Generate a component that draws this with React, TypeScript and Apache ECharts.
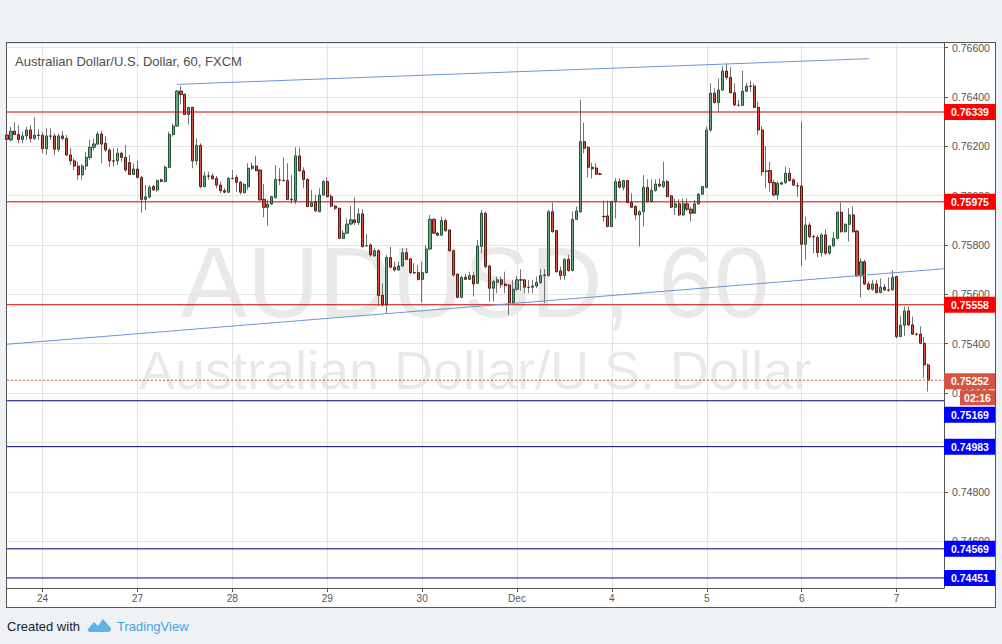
import { useEffect, useRef } from "react";
import * as echarts from "echarts";

const FONT = 'Arial, "Liberation Sans", sans-serif';

const titleText = "Australian Dollar/U.S. Dollar, 60, FXCM";
const watermarkSymbol = "AUDUSD, 60";
const watermarkName = "Australian Dollar/U.S. Dollar";

// hourly candles per trading day: [open, close, low, high]
const nov23 = [
  [0.76246, 0.76228, 0.76222, 0.76252], [0.76226, 0.76261, 0.76219, 0.76279], [0.76261, 0.76248, 0.76246, 0.76297],
  [0.76248, 0.76228, 0.76212, 0.76286], [0.76228, 0.76242, 0.76212, 0.76259], [0.76242, 0.76266, 0.76226, 0.76279],
  [0.76266, 0.76232, 0.76215, 0.76286], [0.76232, 0.76245, 0.76226, 0.76317], [0.76245, 0.76244, 0.76226, 0.76268],
];
const nov24 = [
  [0.76245, 0.7619, 0.76172, 0.76259], [0.7619, 0.76242, 0.76165, 0.76273], [0.76242, 0.76241, 0.76226, 0.76273],
  [0.76242, 0.76188, 0.76165, 0.76252], [0.76188, 0.76242, 0.76178, 0.76252], [0.76242, 0.76232, 0.76226, 0.76262],
  [0.76232, 0.76165, 0.76161, 0.76246], [0.76165, 0.76141, 0.76124, 0.76192], [0.76141, 0.7612, 0.76104, 0.76151],
  [0.7612, 0.76084, 0.76064, 0.76138], [0.76084, 0.7612, 0.76064, 0.76128], [0.7612, 0.76155, 0.76104, 0.76178],
  [0.76155, 0.76196, 0.76145, 0.76226], [0.76196, 0.76209, 0.76185, 0.76232], [0.76209, 0.7625, 0.76205, 0.76259],
  [0.7625, 0.76209, 0.76131, 0.76263], [0.76212, 0.76185, 0.76178, 0.76242], [0.76185, 0.76141, 0.76117, 0.76192],
  [0.76141, 0.7614, 0.76117, 0.76192], [0.76141, 0.76172, 0.76124, 0.76192], [0.76172, 0.76155, 0.76138, 0.76178],
  [0.76155, 0.76104, 0.76097, 0.76205],
];
const nov26 = [
  [0.76134, 0.76086, 0.76084, 0.76165], [0.76086, 0.76108, 0.76084, 0.76131],
];
const nov27 = [
  [0.76108, 0.76074, 0.7607, 0.76141], [0.76074, 0.75985, 0.75931, 0.7608], [0.75985, 0.75995, 0.75942, 0.76043],
  [0.75995, 0.76034, 0.75989, 0.76043], [0.76037, 0.76023, 0.7602, 0.76043], [0.76023, 0.76061, 0.76016, 0.76066],
  [0.76064, 0.76058, 0.76054, 0.7607], [0.76058, 0.76115, 0.76053, 0.76122], [0.76115, 0.76248, 0.76111, 0.76259],
  [0.76248, 0.76282, 0.76239, 0.76293], [0.76282, 0.76424, 0.76279, 0.76428], [0.76424, 0.7641, 0.7637, 0.76444],
  [0.7641, 0.76329, 0.76327, 0.76414], [0.76329, 0.76358, 0.76289, 0.7636], [0.76358, 0.76141, 0.76111, 0.7636],
  [0.76141, 0.76204, 0.76124, 0.76232], [0.76204, 0.76037, 0.7603, 0.76212], [0.76037, 0.7608, 0.76034, 0.76097],
  [0.7608, 0.76079, 0.76064, 0.76097], [0.7608, 0.76069, 0.76064, 0.76091], [0.7607, 0.76043, 0.7603, 0.7608],
  [0.76043, 0.7602, 0.7601, 0.76057], [0.7602, 0.76014, 0.7601, 0.7603], [0.76014, 0.7607, 0.7601, 0.76077],
];
const nov28 = [
  [0.7607, 0.76069, 0.76066, 0.76104], [0.76074, 0.76054, 0.76016, 0.76084], [0.76054, 0.76014, 0.76005, 0.7606],
  [0.76012, 0.76046, 0.7601, 0.7605], [0.76037, 0.76111, 0.76023, 0.76131], [0.76111, 0.7612, 0.76104, 0.76135],
  [0.7612, 0.76101, 0.76099, 0.76161], [0.76104, 0.75983, 0.7598, 0.76107], [0.75985, 0.75953, 0.75912, 0.76047],
  [0.75953, 0.75966, 0.75879, 0.75983], [0.75966, 0.75996, 0.75962, 0.75999], [0.75992, 0.76066, 0.75989, 0.76124],
  [0.76064, 0.76063, 0.76043, 0.76111], [0.76062, 0.76061, 0.76057, 0.76155], [0.76061, 0.75985, 0.75983, 0.76131],
  [0.75985, 0.75983, 0.75969, 0.76084], [0.7598, 0.76161, 0.75966, 0.76196], [0.76161, 0.76101, 0.76097, 0.76196],
  [0.76101, 0.76066, 0.7603, 0.76115], [0.76066, 0.75956, 0.75953, 0.7607], [0.75956, 0.75972, 0.75953, 0.76023],
  [0.75976, 0.75938, 0.75935, 0.76003], [0.75935, 0.76003, 0.75933, 0.7603], [0.76003, 0.76057, 0.76, 0.76064],
];
const nov29 = [
  [0.76057, 0.75996, 0.75993, 0.76074], [0.75996, 0.75958, 0.75953, 0.76007], [0.75958, 0.75949, 0.75942, 0.75962],
  [0.75949, 0.75827, 0.75825, 0.75952], [0.75827, 0.75848, 0.75825, 0.75861], [0.75848, 0.75885, 0.75845, 0.75908],
  [0.75885, 0.75902, 0.75881, 0.75958], [0.75902, 0.75891, 0.75881, 0.75993], [0.75891, 0.75926, 0.75881, 0.75949],
  [0.75926, 0.75793, 0.75791, 0.75945], [0.75797, 0.75798, 0.75793, 0.75845], [0.758, 0.7576, 0.75753, 0.75807],
  [0.75756, 0.75777, 0.75753, 0.75787], [0.75777, 0.75595, 0.75553, 0.75783], [0.75597, 0.75557, 0.75551, 0.75645],
  [0.75557, 0.75749, 0.75524, 0.7576], [0.75749, 0.7571, 0.75706, 0.75793], [0.7571, 0.75699, 0.75692, 0.75733],
  [0.75699, 0.75715, 0.75696, 0.75733], [0.75715, 0.75769, 0.75713, 0.75787], [0.75769, 0.75742, 0.7574, 0.75787],
  [0.75744, 0.75688, 0.75683, 0.75746], [0.75688, 0.75687, 0.75683, 0.75726], [0.75688, 0.75661, 0.75656, 0.75719],
];
const nov30 = [
  [0.75661, 0.75688, 0.75567, 0.75733], [0.75688, 0.75784, 0.75686, 0.758], [0.75784, 0.75904, 0.7578, 0.75922],
  [0.75904, 0.75848, 0.75845, 0.75908], [0.75848, 0.7584, 0.75837, 0.75854], [0.7584, 0.75899, 0.75837, 0.75915],
  [0.75899, 0.75858, 0.75854, 0.75908], [0.75861, 0.75777, 0.75773, 0.75864], [0.75777, 0.75679, 0.75672, 0.7578],
  [0.75682, 0.75588, 0.75584, 0.75686], [0.75588, 0.75669, 0.75584, 0.75675], [0.75669, 0.75661, 0.75659, 0.75683],
  [0.75661, 0.75676, 0.75659, 0.75692], [0.75676, 0.75642, 0.75591, 0.75692], [0.75645, 0.75796, 0.75642, 0.75821],
  [0.75794, 0.75929, 0.75767, 0.75942], [0.75929, 0.75713, 0.75706, 0.75935], [0.75715, 0.75625, 0.75571, 0.75719],
  [0.75625, 0.75652, 0.75571, 0.75659], [0.75649, 0.75659, 0.75605, 0.75672], [0.75659, 0.75641, 0.75625, 0.75672],
  [0.75642, 0.75636, 0.75605, 0.75692], [0.75638, 0.75567, 0.75517, 0.75642], [0.75567, 0.75621, 0.75564, 0.75659],
];
const dec1 = [
  [0.75621, 0.75659, 0.75615, 0.75675], [0.75659, 0.75658, 0.75615, 0.75702], [0.75659, 0.75629, 0.75605, 0.75661],
  [0.75629, 0.75628, 0.75605, 0.75659], [0.75629, 0.75634, 0.75605, 0.75659], [0.75634, 0.75648, 0.75625, 0.75672],
  [0.75648, 0.75676, 0.75642, 0.75702], [0.75676, 0.75679, 0.75564, 0.75702], [0.75676, 0.75935, 0.75672, 0.75942],
  [0.75935, 0.75854, 0.7585, 0.75972], [0.75859, 0.75692, 0.75688, 0.75861], [0.75695, 0.75676, 0.75659, 0.75713],
  [0.75676, 0.75742, 0.75659, 0.75746], [0.75742, 0.75697, 0.75692, 0.7576], [0.75697, 0.75904, 0.75694, 0.75935],
  [0.75904, 0.75938, 0.75902, 0.75956], [0.75935, 0.76219, 0.75931, 0.76388], [0.76219, 0.76192, 0.76172, 0.76296],
  [0.76196, 0.76115, 0.76075, 0.76201], [0.76115, 0.76109, 0.7607, 0.76134], [0.76112, 0.76087, 0.76084, 0.76131],
  [0.76088, 0.76087, 0.76084, 0.76093],
];
const dec3 = [
  [0.75916, 0.75915, 0.75895, 0.7598], [0.75918, 0.75875, 0.75872, 0.7598],
];
const dec4 = [
  [0.75875, 0.75976, 0.75872, 0.7598], [0.75976, 0.76057, 0.75908, 0.7607], [0.76057, 0.76034, 0.7603, 0.7607],
  [0.76034, 0.76061, 0.76021, 0.76064], [0.76061, 0.75972, 0.75969, 0.76064], [0.75972, 0.75953, 0.75949, 0.7601],
  [0.75956, 0.75922, 0.75902, 0.75962], [0.75922, 0.75935, 0.75794, 0.75942], [0.75935, 0.76034, 0.75875, 0.76084],
  [0.76034, 0.75976, 0.75972, 0.76066], [0.75976, 0.76021, 0.75972, 0.76066], [0.76021, 0.76047, 0.76016, 0.76066],
  [0.76047, 0.76039, 0.76034, 0.7607], [0.76037, 0.76057, 0.7603, 0.76138], [0.76057, 0.75996, 0.75993, 0.76064],
  [0.75999, 0.75953, 0.75949, 0.76003], [0.75953, 0.75967, 0.75922, 0.75989], [0.75967, 0.75922, 0.75918, 0.75985],
  [0.75922, 0.75967, 0.75918, 0.75989], [0.75967, 0.75945, 0.75939, 0.75989], [0.75945, 0.75929, 0.75895, 0.75956],
  [0.75929, 0.75967, 0.75926, 0.75983], [0.75967, 0.76006, 0.75962, 0.7601], [0.76006, 0.76037, 0.76003, 0.76039],
];
const dec5 = [
  [0.76034, 0.76266, 0.7603, 0.7628], [0.76266, 0.76415, 0.76259, 0.76455], [0.76415, 0.76377, 0.76374, 0.76435],
  [0.76377, 0.76428, 0.7634, 0.76475], [0.76428, 0.76505, 0.76425, 0.76525], [0.76505, 0.76479, 0.76471, 0.76534],
  [0.76479, 0.76417, 0.76415, 0.7652], [0.76417, 0.76368, 0.76363, 0.76455], [0.76366, 0.76367, 0.76361, 0.76388],
  [0.76366, 0.76423, 0.76363, 0.76506], [0.76423, 0.76444, 0.7642, 0.76458], [0.76444, 0.76443, 0.76421, 0.76466],
  [0.76444, 0.76358, 0.76354, 0.76455], [0.76358, 0.76266, 0.76246, 0.76381], [0.76266, 0.76097, 0.7608, 0.76282],
  [0.761, 0.76099, 0.7603, 0.76201], [0.76102, 0.76053, 0.76016, 0.76138], [0.76053, 0.76003, 0.75996, 0.76064],
  [0.76003, 0.7605, 0.75983, 0.76057], [0.76047, 0.76053, 0.76043, 0.76057], [0.76053, 0.76091, 0.76047, 0.76118],
  [0.76091, 0.76061, 0.76057, 0.76111], [0.76064, 0.76043, 0.76039, 0.7607], [0.7604, 0.76039, 0.75996, 0.76053],
];
const dec6 = [
  [0.76039, 0.75803, 0.75715, 0.763], [0.75803, 0.75881, 0.7574, 0.75915], [0.75881, 0.75834, 0.75827, 0.75891],
  [0.75834, 0.75833, 0.75767, 0.75841], [0.75831, 0.75769, 0.7575, 0.75841], [0.75769, 0.75841, 0.75753, 0.75848],
  [0.75841, 0.75767, 0.7576, 0.75864], [0.75767, 0.75796, 0.7576, 0.758], [0.75796, 0.75827, 0.75794, 0.75854],
  [0.75827, 0.75933, 0.75823, 0.75936], [0.75933, 0.75854, 0.7585, 0.75972], [0.75854, 0.75884, 0.7585, 0.75888],
  [0.75884, 0.75922, 0.75814, 0.75949], [0.75922, 0.75854, 0.7585, 0.75956], [0.75857, 0.75675, 0.75672, 0.75861],
  [0.75675, 0.75732, 0.75588, 0.75746], [0.75732, 0.75642, 0.75638, 0.7574], [0.75642, 0.75621, 0.75615, 0.75652],
  [0.75621, 0.75642, 0.75615, 0.75659], [0.75642, 0.75607, 0.75605, 0.75659], [0.75607, 0.75629, 0.75605, 0.75665],
  [0.75629, 0.75618, 0.75615, 0.75642], [0.75618, 0.75617, 0.75611, 0.75669], [0.75618, 0.75669, 0.75615, 0.75697],
];
const dec7 = [
  [0.75672, 0.75429, 0.75422, 0.75675], [0.75429, 0.75475, 0.75427, 0.75513], [0.75475, 0.75533, 0.75432, 0.75551],
  [0.75533, 0.75476, 0.75472, 0.75551], [0.75476, 0.75439, 0.75436, 0.7551], [0.75439, 0.75438, 0.75432, 0.75445],
  [0.75439, 0.75402, 0.75399, 0.7547], [0.75402, 0.75314, 0.7526, 0.75427], [0.75314, 0.75252, 0.75206, 0.7532],
];

// trading sessions: axis day label, first hour, candles
const sessions = [
  { day: "23", firstHour: 15, candles: nov23 },
  { day: "24", firstHour: 0, candles: nov24 },
  { day: "26", firstHour: 22, candles: nov26 },
  { day: "27", firstHour: 0, candles: nov27 },
  { day: "28", firstHour: 0, candles: nov28 },
  { day: "29", firstHour: 0, candles: nov29 },
  { day: "30", firstHour: 0, candles: nov30 },
  { day: "Dec", firstHour: 0, candles: dec1 },
  { day: "3", firstHour: 22, candles: dec3 },
  { day: "4", firstHour: 0, candles: dec4 },
  { day: "5", firstHour: 0, candles: dec5 },
  { day: "6", firstHour: 0, candles: dec6 },
  { day: "7", firstHour: 0, candles: dec7 },
];
const futureHours = ["9", "10", "11", "12"]; // empty hours on Dec 7 right of the last bar

const resistanceLevels = [0.76339, 0.75975, 0.75558];
const supportLevels = [0.75169, 0.74983, 0.74569, 0.74451];
const lastPrice = 0.75252;
const countdown = "02:16";
// trend lines: [category index, price]
const upperTrend = [[43, 0.76451], [218, 0.76555]];
const lowerTrend = [[0, 0.75398], [237, 0.75704]];
// axis labels hidden behind price boxes in the original
const hiddenAxisLabels = ["0.75000"];

const yMin = 0.744103;
const yMax = 0.766186;

const UP = "#6ba583";
const DOWN = "#d75442";

export default function App() {
  const ref = useRef<HTMLDivElement>(null);

  useEffect(() => {
    if (!ref.current) return;
    try {
      echarts.graphic.registerShape(
        "tvlogo",
        echarts.graphic.extendPath(
          "M1 12 L7 5 L11 9 L16 2 L23 10 C25 12 24 15 21 15 L4 15 C1 15 0 13 1 12 Z",
          {}
        )
      );
    } catch (e) {}

    const chart = echarts.init(ref.current, null, { renderer: "svg" });

    const categories: string[] = [];
    const ohlc: any[] = [];
    sessions.forEach((s) => {
      s.candles.forEach((c, i) => {
        categories.push(s.day + "|" + (s.firstHour + i));
        ohlc.push(c);
      });
    });
    futureHours.forEach((h) => {
      categories.push("7|" + h);
      ohlc.push("-");
    });
    const bodies = ohlc.map((c) =>
      c === "-" ? "-" : [c[0], c[1], Math.min(c[0], c[1]), Math.max(c[0], c[1])]
    );
    const first = categories[0];
    const last = categories[categories.length - 1];

    const isDayStart = (_i: number, v: string) => v.split("|")[1] === "0";

    const levelSeries = (v: number, color: string, type: any) => ({
      type: "line",
      data: [[first, v], [last, v]],
      symbol: "none",
      silent: true,
      z: 5,
      lineStyle: { color, width: 1, type },
    });
    const trendSeries = (pts: number[][]) => ({
      type: "line",
      data: pts.map((p) => [categories[p[0]], p[1]]),
      symbol: "none",
      silent: true,
      z: 5,
      lineStyle: { color: "#6a96d4", width: 1, type: "solid" },
    });

    const option: any = {
      animation: false,
      backgroundColor: "transparent",
      grid: { left: 7, right: 58, top: 43, bottom: 56, show: false },
      xAxis: {
        type: "category",
        data: categories,
        boundaryGap: false,
        axisLine: { lineStyle: { color: "#555", width: 1 } },
        axisTick: { show: true, length: 4, interval: isDayStart, lineStyle: { color: "#555" } },
        axisLabel: {
          interval: isDayStart,
          formatter: (v: string) => v.split("|")[0],
          color: "#555",
          fontSize: 10,
          fontFamily: FONT,
          margin: 5,
        },
        splitLine: { show: true, interval: isDayStart, lineStyle: { color: "#e4e4e4", width: 1 } },
      },
      yAxis: {
        type: "value",
        position: "right",
        min: yMin,
        max: yMax,
        splitNumber: 10,
        scale: true,
        axisLine: { show: true, lineStyle: { color: "#555", width: 1 } },
        axisTick: { show: true, length: 4, lineStyle: { color: "#555" } },
        axisLabel: {
          formatter: (v: number) => {
            const s = v.toFixed(5);
            return hiddenAxisLabels.includes(s) ? "" : s;
          },
          color: "#555",
          fontSize: 10.5,
          fontFamily: FONT,
          margin: 8,
          showMinLabel: false,
          showMaxLabel: false,
        },
        splitLine: { show: true, lineStyle: { color: "#e4e4e4", width: 1 } },
      },
      series: [
        {
          type: "candlestick",
          name: "wicks",
          data: ohlc,
          barWidth: 0.2,
          z: 2,
          itemStyle: {
            color: "#737375",
            color0: "#737375",
            borderColor: "#737375",
            borderColor0: "#737375",
            borderWidth: 1,
          },
        },
        {
          type: "candlestick",
          name: "bodies",
          data: bodies,
          barWidth: 2.6,
          z: 3,
          itemStyle: {
            color: UP,
            color0: DOWN,
            borderColor: "#225437",
            borderColor0: "#5b1a13",
            borderWidth: 1,
          },
        },
        ...resistanceLevels.map((v) => levelSeries(v, "#d40000", "solid")),
        ...supportLevels.map((v) => levelSeries(v, "#000080", "solid")),
        levelSeries(lastPrice, DOWN, [2, 2]),
        trendSeries(upperTrend),
        trendSeries(lowerTrend),
      ],
    };
    chart.setOption(option);

    const yOf = (p: number) => chart.convertToPixel({ yAxisIndex: 0 }, p) as number;
    const graphics: any[] = [
      {
        type: "text",
        x: 475,
        y: 282,
        z: -1,
        silent: true,
        style: { text: watermarkSymbol, fill: "rgba(0,0,0,0.085)", fontSize: 100, fontFamily: FONT, align: "center", verticalAlign: "middle" },
      },
      {
        type: "text",
        x: 475,
        y: 370,
        z: -1,
        silent: true,
        style: { text: watermarkName, fill: "rgba(0,0,0,0.085)", fontSize: 54, fontFamily: FONT, align: "center", verticalAlign: "middle" },
      },
      {
        type: "text",
        x: 15,
        y: 61,
        style: { text: titleText, fill: "#4d4d4d", fontSize: 13, fontFamily: FONT, verticalAlign: "middle" },
      },
      {
        type: "text",
        x: 7,
        y: 626,
        style: { text: "Created with", fill: "#222", fontSize: 13, fontFamily: FONT, verticalAlign: "middle" },
      },
      { type: "tvlogo", x: 87, y: 617, scaleX: 1, scaleY: 1, style: { fill: "#5eb3e4" } },
      {
        type: "text",
        x: 117,
        y: 626,
        style: { text: "TradingView", fill: "#49a1de", fontSize: 13, fontFamily: FONT, verticalAlign: "middle" },
      },
    ];

    const box = (price: number, color: string, offset: number) => {
      const y = yOf(price) + offset;
      graphics.push({ type: "rect", z: 10, shape: { x: 944, y: y - 8, width: 51, height: 16 }, style: { fill: color } });
      graphics.push({
        type: "text",
        z: 11,
        x: 951,
        y: y,
        style: { text: price.toFixed(5), fill: "#fff", fontSize: 10.5, fontWeight: "bold", fontFamily: FONT, verticalAlign: "middle" },
      });
    };
    resistanceLevels.forEach((p) => box(p, "#ff0000", 0));
    box(lastPrice, DOWN, 1);
    supportLevels.forEach((p, i) => box(p, "#0000ff", i === 0 ? 14 : 0));
    const yl = yOf(lastPrice);
    graphics.push({ type: "rect", z: 10, shape: { x: 960, y: yl + 10, width: 35, height: 15 }, style: { fill: DOWN } });
    graphics.push({
      type: "text",
      z: 11,
      x: 977.5,
      y: yl + 17.5,
      style: { text: countdown, fill: "#fff", fontSize: 10.5, fontWeight: "bold", fontFamily: FONT, align: "center", verticalAlign: "middle" },
    });

    chart.setOption({ graphic: graphics });

    return () => chart.dispose();
  }, []);

  return (
    <div style={{ position: "absolute", left: 0, top: 0, width: 1002, height: 644, background: "#eff2f5", overflow: "hidden" }}>
      <div
        style={{
          position: "absolute",
          left: 6,
          top: 42,
          width: 988,
          height: 564,
          border: "1px solid #555",
          background: "#fff",
        }}
      />
      <div ref={ref} style={{ position: "absolute", left: 0, top: 0, width: 1002, height: 644 }} />
    </div>
  );
}
